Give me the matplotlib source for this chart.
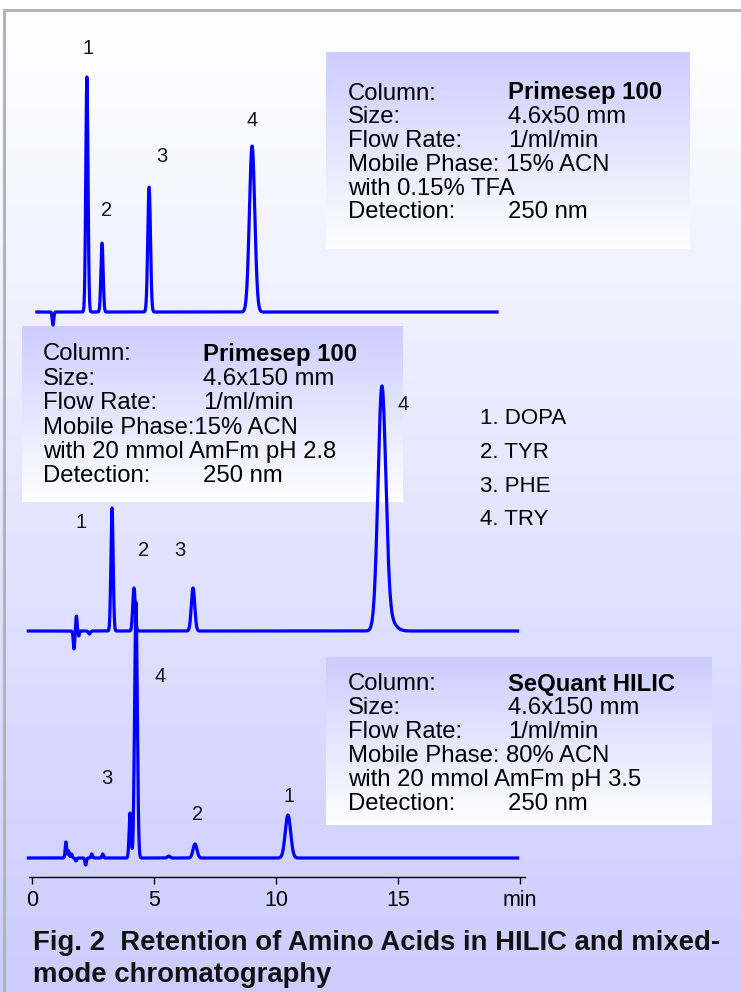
import numpy as np
import matplotlib.pyplot as plt
from matplotlib.lines import Line2D
from matplotlib.colors import LinearSegmentedColormap

W, H = 741, 992
plt.rcParams['font.family'] = ['Liberation Sans', 'DejaVu Sans']

# --- peak tables: retention time (min), height, sigma (min)
top_rt = [0.86, 2.25, 2.87, 4.80, 9.02]
top_h = [-13, 235, 69, 125, 166]
top_w = [0.03, 0.045, 0.045, 0.055, 0.11]
top_range = (0.2, 19.06)
top_base = 680

mid_rt = [1.72, 1.82, 1.92, 2.35, 3.28, 4.18, 6.60, 14.34, 14.6]
mid_h = [-18, 15, -5, -3, 123, 43, 43, 238, 12]
mid_w = [0.03, 0.025, 0.02, 0.04, 0.045, 0.05, 0.07, 0.16, 0.25]
mid_range = (-0.15, 19.9)
mid_base = 361

bot_rt = [1.39, 1.50, 1.62, 1.80, 2.20, 2.45, 2.90, 4.02, 4.26, 5.60, 6.68, 10.49]
bot_h = [16, 7, 4, -3, -7, 4, 4, 45, 256, 2, 14, 43]
bot_w = [0.03, 0.03, 0.03, 0.03, 0.03, 0.03, 0.03, 0.04, 0.055, 0.05, 0.08, 0.11]
bot_range = (-0.15, 19.9)
bot_base = 134

# peak number labels (time, level)
top_labels = ['1', '2', '3', '4']
top_lbl_t = [2.30, 3.07, 5.33, 9.02]
top_lbl_y = [944, 781, 835, 871]
mid_labels = ['1', '2', '3', '4']
mid_lbl_t = [2.01, 4.59, 6.07, 15.2]
mid_lbl_y = [469, 441, 441, 587]
bot_labels = ['3', '4', '2', '1']
bot_lbl_t = [3.07, 5.25, 6.80, 10.53]
bot_lbl_y = [214, 316, 178, 195]

x_ticks = [0, 5, 10, 15, 20]
x_ticklabels = ['0', '5', '10', '15', 'min']
axis_level = 115

compounds = ['1. DOPA', '2. TYR', '3. PHE', '4. TRY']

box1_rows = [('Column:', 'Primesep 100'), ('Size:', '4.6x50 mm'),
             ('Flow Rate:', '1/ml/min'), ('Mobile Phase: 15% ACN', ''),
             ('with 0.15% TFA', ''), ('Detection:', '250 nm')]
box2_rows = [('Column:', 'Primesep 100'), ('Size:', '4.6x150 mm'),
             ('Flow Rate:', '1/ml/min'), ('Mobile Phase:15% ACN', ''),
             ('with 20 mmol AmFm pH 2.8', ''), ('Detection:', '250 nm')]
box3_rows = [('Column:', 'SeQuant HILIC'), ('Size:', '4.6x150 mm'),
             ('Flow Rate:', '1/ml/min'), ('Mobile Phase: 80% ACN', ''),
             ('with 20 mmol AmFm pH 3.5', ''), ('Detection:', '250 nm')]

title_lines = ['Fig. 2  Retention of Amino Acids in HILIC and mixed-',
               'mode chromatography']

X0_PX, PX_PER_MIN = 32, 24.4
LAV = '#ccccff'
BOX_FS = 17.2


def trace(rt, h, w, t_range, base):
    t = np.linspace(t_range[0], t_range[1], 3000)
    y = np.full_like(t, float(base))
    for r, a, s in zip(rt, h, w):
        y += a * np.exp(-0.5 * ((t - r) / s) ** 2)
    return t, y


def fx(px):
    return px / W


def fy(py):
    return 1 - py / H


fig = plt.figure(figsize=(W / 100, H / 100), dpi=100, facecolor='white')

# page background: white -> lavender gradient below the frame line
bg = fig.add_axes([0, 0, 1, fy(10)])
cmap_bg = LinearSegmentedColormap.from_list('bg', ['white', LAV])
bg.imshow(np.linspace(0, 1, 256).reshape(-1, 1), cmap=cmap_bg, aspect='auto',
          extent=(0, 1, 0, 1))
bg.axis('off')

# info boxes (lavender at top fading to white)
cmap_box = LinearSegmentedColormap.from_list('box', [LAV, 'white'])
boxes = [((326, 52, 690, 249), box1_rows, 348, 508, 91, 23.8),
         ((22, 326, 403, 502), box2_rows, 43, 203, 352, 24.4),
         ((326, 657, 712, 825), box3_rows, 348, 508, 682, 23.8)]
for (x1, y1, x2, y2), rows, lx, vx, ly, dy in boxes:
    bax = fig.add_axes([fx(x1), fy(y2), fx(x2 - x1), (y2 - y1) / H])
    bax.imshow(np.linspace(0, 1, 256).reshape(-1, 1), cmap=cmap_box,
               aspect='auto', extent=(0, 1, 0, 1))
    bax.axis('off')

# main chromatogram axes spanning the page
ax = fig.add_axes([0, 0, 1, 1])
ax.patch.set_visible(False)
ax.set_xlim(-X0_PX / PX_PER_MIN, (W - X0_PX) / PX_PER_MIN)
ax.set_ylim(0, H)

for rt, h, w, rng, base in [(top_rt, top_h, top_w, top_range, top_base),
                            (mid_rt, mid_h, mid_w, mid_range, mid_base),
                            (bot_rt, bot_h, bot_w, bot_range, bot_base)]:
    t, y = trace(rt, h, w, rng, base)
    ax.plot(t, y, color='#0000ff', lw=2.3, solid_joinstyle='round')

for labels, lt, ly in [(top_labels, top_lbl_t, top_lbl_y),
                       (mid_labels, mid_lbl_t, mid_lbl_y),
                       (bot_labels, bot_lbl_t, bot_lbl_y)]:
    for s, t, y in zip(labels, lt, ly):
        ax.text(t, y, s, fontsize=14.5, ha='center', va='center', color='#111111')

for sp in ['top', 'right', 'left']:
    ax.spines[sp].set_visible(False)
ax.spines['bottom'].set_position(('data', axis_level))
ax.spines['bottom'].set_bounds(-0.12, 20.2)
ax.spines['bottom'].set_linewidth(1.0)
ax.set_yticks([])
ax.set_xticks(x_ticks)
ax.set_xticklabels(x_ticklabels)
ax.tick_params(axis='x', direction='out', length=5, width=1, labelsize=15.5, pad=4)

# box texts
for (x1, y1, x2, y2), rows, lx, vx, ly, dy in boxes:
    for i, (lab, val) in enumerate(rows):
        yb = ly + i * dy + 8.5
        fig.text(fx(lx), fy(yb), lab, fontsize=BOX_FS, va='baseline', ha='left')
        if val:
            fig.text(fx(vx), fy(yb), val, fontsize=BOX_FS, va='baseline', ha='left',
                     fontweight='bold' if i == 0 else 'normal')

# compound legend
for i, c in enumerate(compounds):
    fig.text(fx(480), fy(419 + i * 33.5), c, fontsize=16, va='center', ha='left')

# caption
for i, line in enumerate(title_lines):
    fig.text(fx(33), fy(943 + i * 32), line, fontsize=19.8, fontweight='bold',
             va='center', ha='left', color='#111111')

# frame lines
fig.add_artist(Line2D([fx(4), 1], [fy(10), fy(10)], transform=fig.transFigure,
                      color='#b4b4b4', lw=2.2))
fig.add_artist(Line2D([fx(4), fx(4)], [0, fy(10)], transform=fig.transFigure,
                      color='#b4b4b4', lw=2.2))

fig.savefig('out.png', dpi=100)
